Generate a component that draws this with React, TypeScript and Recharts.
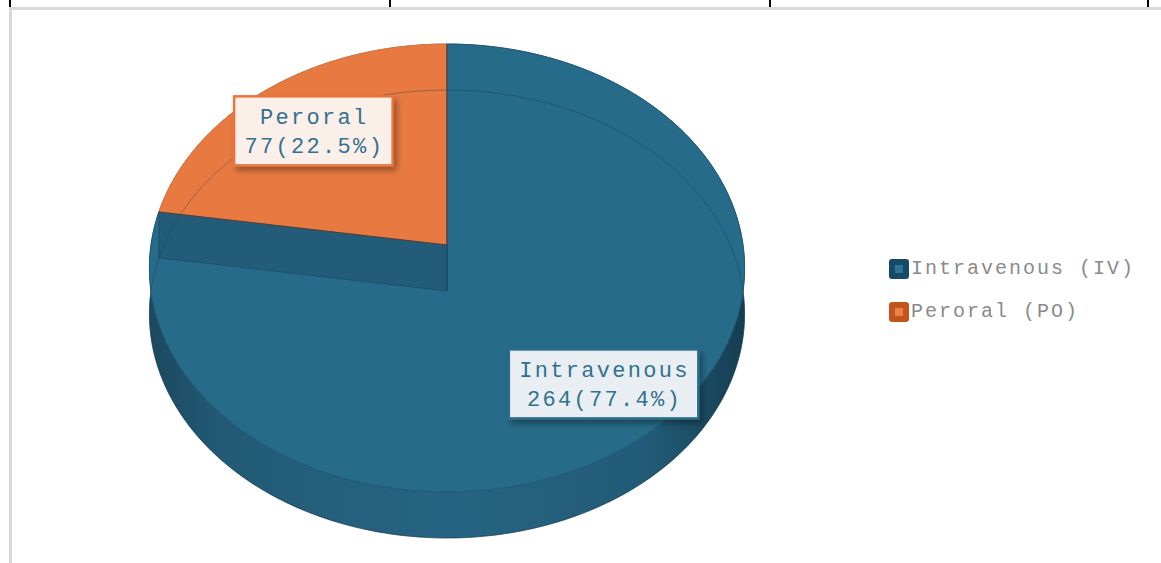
import React from 'react';
import { PieChart, Pie, Legend } from 'recharts';

// ---- data ----
const categories = ['Intravenous', 'Peroral'];
const legendNames = ['Intravenous (IV)', 'Peroral (PO)'];
const values = [264, 77];
const percentLabels = ['77.4%', '22.5%'];

// ---- styles ----
const topColors = ['#276b8a', '#e87a41'];
const legendOuter = ['#154a66', '#c4541c'];
const legendInner = ['#2f7396', '#e8834b'];
const boxBorder = ['#2a6d8c', '#e8773c'];
const boxFill = ['#e9eef2', '#fbefe9'];
const FONT = "'Courier New', 'Liberation Mono', monospace";

const data = categories.map((c, i) => ({
  name: legendNames[i],
  label: c,
  value: values[i],
  pct: percentLabels[i],
}));

// 3D projection parameters
const YS = 0.7486; // vertical squash
const K = 0.1027; // perspective strength
const DEPTH = 46; // pie thickness in px

type Pt = [number, number];

function proj(cx: number, cy: number, rad: number, deg: number, r: number, z: number): Pt {
  const t = (deg * Math.PI) / 180;
  const u = r * Math.cos(t);
  const v = -r * Math.sin(t);
  const w = 1 - K * v;
  return [cx + (rad * u) / w, cy + z + (rad * YS * v) / w];
}

function arc(cx: number, cy: number, rad: number, a0: number, a1: number, z: number): Pt[] {
  const n = Math.max(2, Math.ceil(Math.abs(a1 - a0)));
  const pts: Pt[] = [];
  for (let i = 0; i <= n; i++) {
    pts.push(proj(cx, cy, rad, a0 + ((a1 - a0) * i) / n, 1, z));
  }
  return pts;
}

const fmt = (p: Pt) => `${p[0].toFixed(2)},${p[1].toFixed(2)}`;
const closed = (pts: Pt[]) => 'M' + pts.map(fmt).join('L') + 'Z';
const open = (pts: Pt[]) => 'M' + pts.map(fmt).join('L');

const renderWall = (p: any) => {
  const { cx, cy, outerRadius, startAngle, endAngle, index } = p;
  const top = arc(cx, cy, outerRadius, startAngle, endAngle, 0);
  const bot = arc(cx, cy, outerRadius, endAngle, startAngle, DEPTH);
  return (
    <g>
      {index === 0 && (
        <defs>
          <linearGradient id="wall0" x1={cx - outerRadius} x2={cx + outerRadius} y1={0} y2={0} gradientUnits="userSpaceOnUse">
            <stop offset="0" stopColor="#1b4960" />
            <stop offset="0.12" stopColor="#225a75" />
            <stop offset="0.5" stopColor="#266483" />
            <stop offset="0.85" stopColor="#225a76" />
            <stop offset="1" stopColor="#163e52" />
          </linearGradient>
          <linearGradient id="wall1" x1={cx - outerRadius} x2={cx + outerRadius} y1={0} y2={0} gradientUnits="userSpaceOnUse">
            <stop offset="0" stopColor="#9c4a20" />
            <stop offset="0.5" stopColor="#c2602e" />
            <stop offset="1" stopColor="#9c4a20" />
          </linearGradient>
          <filter id="boxShadow" x="-20%" y="-20%" width="150%" height="160%">
            <feDropShadow dx="3" dy="4" stdDeviation="3" floodColor="#000" floodOpacity="0.35" />
          </filter>
        </defs>
      )}
      <path d={closed([...top, ...bot])} fill={`url(#wall${index})`} stroke="#1a4459" strokeWidth={0.6} />
    </g>
  );
};

const renderTop = (p: any) => {
  const { cx, cy, outerRadius, startAngle, endAngle, index } = p;
  const c = proj(cx, cy, outerRadius, 0, 0, 0);
  const rim = arc(cx, cy, outerRadius, startAngle, endAngle, 0);
  const lowRim = arc(cx, cy, outerRadius, startAngle, endAngle, DEPTH);
  return (
    <g>
      <path d={closed([c, ...rim])} fill={topColors[index]} stroke={index === 0 ? '#1f5a76' : '#e0733a'} strokeWidth={1} />
      <path d={open(lowRim)} fill="none" stroke="rgba(15,50,70,0.35)" strokeWidth={1} />
    </g>
  );
};

const renderFace = (p: any) => {
  const { cx, cy, outerRadius, startAngle, endAngle } = p;
  const c0 = proj(cx, cy, outerRadius, 0, 0, 0);
  const c1 = proj(cx, cy, outerRadius, 0, 0, DEPTH);
  const e0 = proj(cx, cy, outerRadius, endAngle, 1, 0);
  const e1 = proj(cx, cy, outerRadius, endAngle, 1, DEPTH);
  const s0 = proj(cx, cy, outerRadius, startAngle, 1, 0);
  return (
    <g>
      <path d={closed([c0, e0, e1, c1])} fill="rgba(25,60,80,0.3)" stroke="rgba(20,60,85,0.55)" strokeWidth={0.8} />
      <path d={open([c0, s0])} fill="none" stroke="rgba(30,55,70,0.6)" strokeWidth={1} />
    </g>
  );
};

const renderBox = (p: any) => {
  const { cx, cy, outerRadius, midAngle, index, payload } = p;
  const [x0, y0] = proj(cx, cy, outerRadius, midAngle, 0.75, 0);
  const x = x0 + 3;
  const y = y0 + 5;
  const line1 = payload.label;
  const line2 = `${payload.value}(${payload.pct})`;
  const chars = Math.max(line1.length, line2.length);
  const w = chars * 15.5 + 19;
  const h = 69;
  return (
    <g>
      <rect x={x - w / 2} y={y - h / 2} width={w} height={h} fill={boxFill[index]} stroke={boxBorder[index]} strokeWidth={2.5} filter="url(#boxShadow)" />
      <text x={x + 1} y={y - h / 2 + 28} textAnchor="middle" fontFamily={FONT} fontSize={22} letterSpacing={2.3} fill="#31718f">
        {line1}
      </text>
      <text x={x + 1} y={y - h / 2 + 57} textAnchor="middle" fontFamily={FONT} fontSize={22} letterSpacing={2.3} fill="#31718f">
        {line2}
      </text>
    </g>
  );
};

const renderLegend = () => (
  <div style={{ fontFamily: FONT }}>
    {legendNames.map((n, i) => (
      <div key={n} style={{ display: 'flex', alignItems: 'center', height: 43 }}>
        <span
          style={{
            width: 20,
            height: 20,
            borderRadius: 3,
            background: legendOuter[i],
            position: 'relative',
            display: 'inline-block',
            flex: '0 0 auto',
          }}
        >
          <span style={{ position: 'absolute', left: 6, top: 6, width: 8, height: 8, background: legendInner[i] }} />
        </span>
        <span style={{ marginLeft: 2, color: '#8a8a8a', fontSize: 20, letterSpacing: 2, whiteSpace: 'nowrap' }}>{n}</span>
      </div>
    ))}
  </div>
);

const pieCommon = {
  data,
  dataKey: 'value',
  nameKey: 'name',
  cx: 447,
  cy: 245,
  innerRadius: 0,
  outerRadius: 296,
  startAngle: 90,
  endAngle: -270,
  fill: 'transparent',
  stroke: 'none',
  labelLine: false,
  isAnimationActive: false,
  legendType: 'none' as const,
};

export default function App() {
  return (
    <div style={{ position: 'absolute', left: 0, top: 0, width: 1161, height: 563, background: '#fff', overflow: 'hidden' }}>
      {[9, 389, 769, 1147].map((x) => (
        <div key={x} style={{ position: 'absolute', left: x, top: 0, width: 2, height: 7, background: '#000' }} />
      ))}
      <div style={{ position: 'absolute', left: 9, top: 7, width: 1152, height: 3, background: '#d9d9d9' }} />
      <div style={{ position: 'absolute', left: 9, top: 7, width: 3, height: 556, background: '#d9d9d9' }} />
      <div style={{ position: 'absolute', left: 0, top: 0 }}>
        <PieChart width={1161} height={563} margin={{ top: 0, right: 0, bottom: 0, left: 0 }}>
          <Pie {...pieCommon} label={renderWall} />
          <Pie {...pieCommon} label={renderTop} />
          <Pie {...pieCommon} label={renderFace} />
          <Pie {...pieCommon} label={renderBox} />
          <Legend
            content={renderLegend}
            wrapperStyle={{ position: 'absolute', left: 889, top: 247, width: 270, height: 90 }}
          />
        </PieChart>
      </div>
    </div>
  );
}
